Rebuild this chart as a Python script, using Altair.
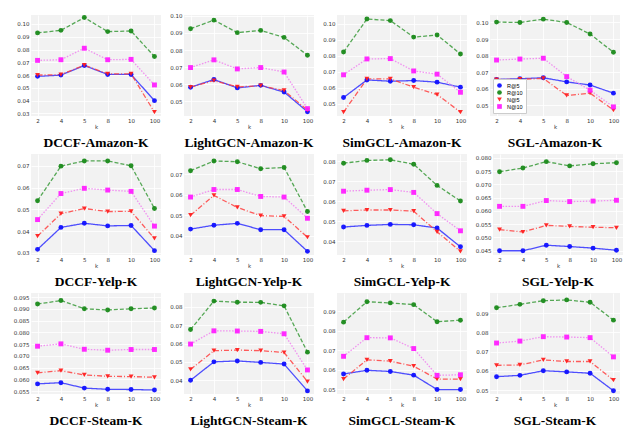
import altair as alt
import pandas as pd

ks = ["2", "4", "5", "8", "10", "100"]
metrics = ["R@5", "R@10", "N@5", "N@10"]

titles = [
    "DCCF-Amazon-K", "LightGCN-Amazon-K", "SimGCL-Amazon-K", "SGL-Amazon-K",
    "DCCF-Yelp-K", "LightGCN-Yelp-K", "SimGCL-Yelp-K", "SGL-Yelp-K",
    "DCCF-Steam-K", "LightGCN-Steam-K", "SimGCL-Steam-K", "SGL-Steam-K",
]

# values per panel: R@5, R@10, N@5, N@10
r5 = [
    [0.059, 0.060, 0.0675, 0.0605, 0.0605, 0.040],
    [0.0583, 0.0628, 0.0579, 0.0594, 0.0555, 0.0440],
    [0.054, 0.065, 0.0642, 0.0646, 0.0636, 0.0605],
    [0.0656, 0.0660, 0.0666, 0.0641, 0.0622, 0.0573],
    [0.0316, 0.0417, 0.0436, 0.0424, 0.0426, 0.0310],
    [0.0432, 0.0451, 0.0460, 0.0429, 0.0429, 0.0323],
    [0.0470, 0.0478, 0.0483, 0.0481, 0.0465, 0.0371],
    [0.0449, 0.0449, 0.0470, 0.0465, 0.0459, 0.0451],
    [0.0581, 0.0586, 0.0563, 0.0558, 0.0557, 0.0555],
    [0.0400, 0.0500, 0.0505, 0.0497, 0.0488, 0.0342],
    [0.0578, 0.0597, 0.0591, 0.0572, 0.0498, 0.0498],
    [0.0570, 0.0577, 0.0601, 0.0595, 0.0588, 0.0497],
]
r10 = [
    [0.093, 0.095, 0.105, 0.094, 0.0945, 0.0745],
    [0.0925, 0.0975, 0.0902, 0.0915, 0.0874, 0.0770],
    [0.0824, 0.103, 0.102, 0.0917, 0.093, 0.0812],
    [0.1002, 0.1000, 0.1020, 0.1000, 0.0930, 0.0820],
    [0.0540, 0.0699, 0.0723, 0.0723, 0.0701, 0.0504],
    [0.0718, 0.0766, 0.0762, 0.0728, 0.0734, 0.0518],
    [0.0789, 0.0803, 0.0806, 0.0784, 0.0678, 0.0600],
    [0.0748, 0.0762, 0.0786, 0.0770, 0.0778, 0.0782],
    [0.0920, 0.0935, 0.0900, 0.0895, 0.0900, 0.0903],
    [0.0676, 0.0831, 0.0825, 0.0824, 0.0805, 0.0553],
    [0.0845, 0.0950, 0.0944, 0.0935, 0.0847, 0.0855],
    [0.0928, 0.0946, 0.0965, 0.0969, 0.0957, 0.0864],
]
n5 = [
    [0.060, 0.0603, 0.0678, 0.061, 0.061, 0.031],
    [0.0583, 0.0622, 0.0585, 0.0592, 0.0564, 0.0449],
    [0.0449, 0.0656, 0.0656, 0.0605, 0.0559, 0.0449],
    [0.0655, 0.0657, 0.0662, 0.0559, 0.0573, 0.0471],
    [0.0377, 0.0480, 0.0504, 0.0490, 0.0491, 0.0366],
    [0.0500, 0.0597, 0.0538, 0.0498, 0.0494, 0.0392],
    [0.0551, 0.0555, 0.0555, 0.0549, 0.0446, 0.0348],
    [0.0529, 0.0520, 0.0545, 0.0541, 0.0538, 0.0536],
    [0.0628, 0.0637, 0.0619, 0.0613, 0.0612, 0.0609],
    [0.0459, 0.0561, 0.0564, 0.0561, 0.0551, 0.0393],
    [0.0552, 0.0651, 0.0644, 0.0618, 0.0552, 0.0552],
    [0.0629, 0.0631, 0.0657, 0.0649, 0.0649, 0.0552],
]
n10 = [
    [0.0715, 0.072, 0.081, 0.072, 0.0723, 0.0523],
    [0.0698, 0.0743, 0.0690, 0.0698, 0.0672, 0.0458],
    [0.0682, 0.0781, 0.0783, 0.0706, 0.0686, 0.0573],
    [0.0773, 0.0779, 0.0784, 0.0673, 0.0591, 0.0490],
    [0.0453, 0.0573, 0.0597, 0.0589, 0.0583, 0.0423],
    [0.0589, 0.0626, 0.0626, 0.0592, 0.0589, 0.0485],
    [0.0649, 0.0654, 0.0657, 0.0643, 0.0537, 0.0451],
    [0.0617, 0.0617, 0.0639, 0.0635, 0.0637, 0.0640],
    [0.0741, 0.0751, 0.0728, 0.0724, 0.0727, 0.0727],
    [0.0597, 0.0669, 0.0668, 0.0666, 0.0653, 0.0456],
    [0.0669, 0.0765, 0.0764, 0.0709, 0.0571, 0.0574],
    [0.0745, 0.0755, 0.0778, 0.0776, 0.0773, 0.0673],
]

y_domains = [
    [0.028, 0.107], [0.0415, 0.1005], [0.0425, 0.1055], [0.0435, 0.1045],
    [0.029, 0.0755], [0.0305, 0.080], [0.033, 0.0835], [0.0433, 0.0815],
    [0.0538, 0.0967], [0.0325, 0.0875], [0.0475, 0.0995], [0.048, 0.1005],
]
y_ticks = [
    [0.03, 0.04, 0.05, 0.06, 0.07, 0.08, 0.09, 0.10],
    [0.05, 0.06, 0.07, 0.08, 0.09, 0.10],
    [0.05, 0.06, 0.07, 0.08, 0.09, 0.10],
    [0.05, 0.06, 0.07, 0.08, 0.09, 0.10],
    [0.03, 0.04, 0.05, 0.06, 0.07],
    [0.04, 0.05, 0.06, 0.07],
    [0.04, 0.05, 0.06, 0.07, 0.08],
    [0.045, 0.050, 0.055, 0.060, 0.065, 0.070, 0.075, 0.080],
    [0.055, 0.060, 0.065, 0.070, 0.075, 0.080, 0.085, 0.090, 0.095],
    [0.04, 0.05, 0.06, 0.07, 0.08],
    [0.05, 0.06, 0.07, 0.08, 0.09],
    [0.05, 0.06, 0.07, 0.08, 0.09],
]
y_formats = [".2f", ".2f", ".2f", ".2f", ".2f", ".2f", ".2f", ".3f",
             ".3f", ".2f", ".2f", ".2f"]

colors = ["#1010ff", "#1a8a1a", "#ff2020", "#ff20ff"]
line_colors = ["#3030ff", "#3a9a3a", "#ff4040", "#f080f0"]
shapes = ["circle", "circle", "triangle-down", "square"]
dashes = [[1, 0], [4, 2], [5, 2, 1, 2], [1.5, 1.5]]

W, H = 130, 101

panels = []
for i, t in enumerate(titles):
    rows = []
    for m, series in zip(metrics, [r5[i], r10[i], n5[i], n10[i]]):
        for k, v in zip(ks, series):
            rows.append({"k": k, "metric": m, "series": m, "value": v})
    df = pd.DataFrame(rows)
    x = alt.X("k:N", sort=ks, scale=alt.Scale(type="point", padding=0.28),
              axis=alt.Axis(title="k", labelAngle=0, titleColor="#333333"))
    y = alt.Y("value:Q", scale=alt.Scale(domain=y_domains[i], nice=False, zero=False),
              axis=alt.Axis(title=None, values=y_ticks[i], format=y_formats[i]))
    show_legend = (t == "SGL-Amazon-K")
    if show_legend:
        leg = alt.Legend(title=None, orient="bottom-left", fillColor="white",
                         strokeColor="#cccccc", padding=3, labelFontSize=5.5,
                         symbolSize=22, rowPadding=0, offset=3)
    else:
        leg = None
    line = alt.Chart(df).mark_line(strokeWidth=1.3, opacity=0.85).encode(
        x=x, y=y,
        stroke=alt.Stroke("series:N", sort=metrics,
                          scale=alt.Scale(range=line_colors), legend=None),
        strokeDash=alt.StrokeDash("series:N", sort=metrics,
                                  scale=alt.Scale(range=dashes), legend=None),
        detail="series:N",
    )
    pts = alt.Chart(df).mark_point(filled=True, size=24, opacity=0.95).encode(
        x=x, y=y,
        color=alt.Color("metric:N", sort=metrics,
                        scale=alt.Scale(domain=metrics, range=colors), legend=leg),
        shape=alt.Shape("metric:N", sort=metrics,
                        scale=alt.Scale(domain=metrics, range=shapes), legend=leg),
    )
    panel = alt.layer(line, pts).properties(
        width=W, height=H,
        title=alt.TitleParams(t, orient="bottom", font="Liberation Serif",
                              fontSize=13.5, fontWeight="bold", color="black", offset=6),
    )
    panels.append(panel)

indep = dict(color="independent", shape="independent", stroke="independent",
             strokeDash="independent")
rows_ = [alt.hconcat(*panels[r * 4:(r + 1) * 4], spacing=8)
         .resolve_scale(**indep).resolve_legend(**indep)
         for r in range(3)]
chart = alt.vconcat(*rows_, spacing=4).resolve_scale(**indep).resolve_legend(
    **indep
).configure_view(
    fill="#f2f2f2", stroke=None
).configure_axis(
    labelFontSize=5.5, labelColor="#333333", titleFontSize=5.5, titleFontWeight="normal",
    titleColor="#333333", titlePadding=1, labelPadding=2, tickSize=0, domain=False,
    grid=True, gridColor="white", gridWidth=0.8, labelFont="DejaVu Sans",
    titleFont="DejaVu Sans",
)

chart.save("out.html", embed_options={"renderer": "svg", "actions": False})
